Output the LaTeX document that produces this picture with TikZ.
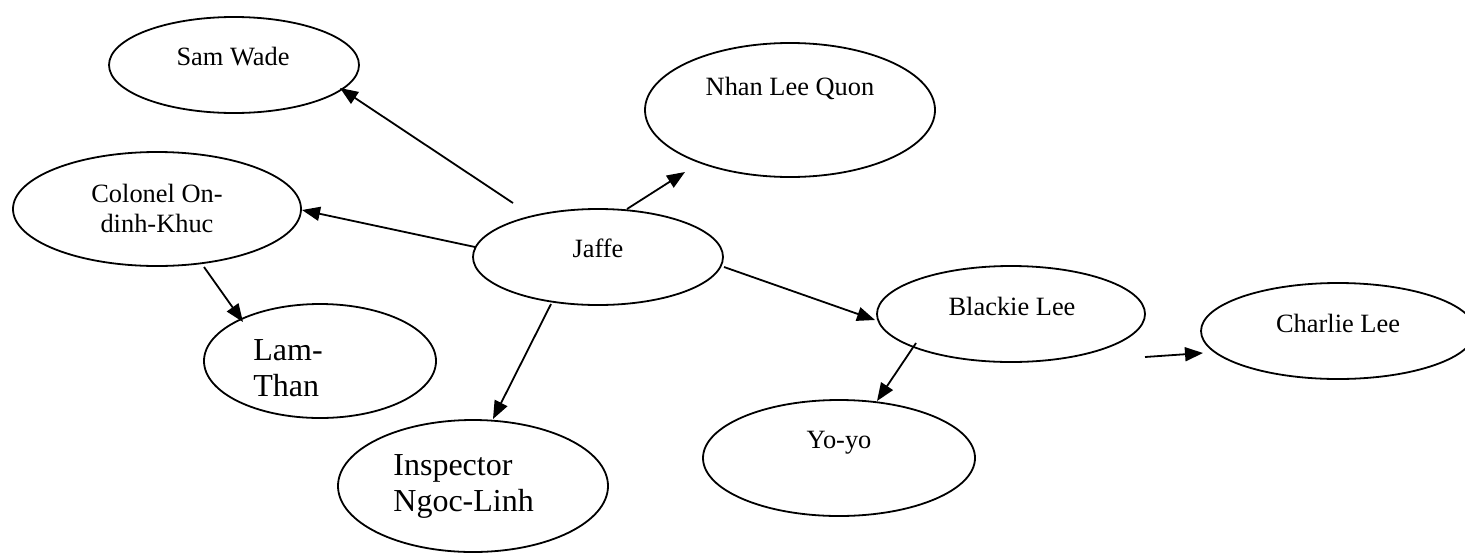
\documentclass[tikz,border=0pt]{standalone}
\usepackage{fontspec}
\setmainfont{Liberation Serif}
\usetikzlibrary{shapes.geometric,arrows.meta}
\begin{document}
\begin{tikzpicture}[x=0.5pt,y=-0.5pt,
  person/.style={draw,ellipse,line width=0.9pt,inner sep=0pt},
  smalltxt/.style={inner sep=0pt,font=\fontsize{13.2}{15}\selectfont,align=center},
  bigtxt/.style={inner sep=0pt,font=\fontsize{16}{18}\selectfont,align=left,anchor=west},
  link/.style={line width=0.9pt,-{Triangle[length=9pt,width=7pt]}}]
\useasboundingbox (0,0) rectangle (1465,552);
% ellipses
\node[person,minimum width=125pt,minimum height=48pt] (sam) at (234,65) {};
\node[person,minimum width=144pt,minimum height=57pt] (colonel) at (157,209) {};
\node[person,minimum width=145pt,minimum height=67pt] (nhan) at (790,110) {};
\node[person,minimum width=125pt,minimum height=48pt] (jaffe) at (598,257) {};
\node[person,minimum width=116pt,minimum height=57pt] (lam) at (320,361) {};
\node[person,minimum width=134pt,minimum height=48pt] (blackie) at (1011,314) {};
\node[person,minimum width=137pt,minimum height=48pt] (charlie) at (1338,331) {};
\node[person,minimum width=136pt,minimum height=58pt] (yoyo) at (839,458) {};
\node[person,minimum width=135pt,minimum height=66pt] (insp) at (473,486) {};
% texts
\node[smalltxt] (samT) at (233,57) {Sam Wade};
\node[smalltxt] (colT) at (157,208) {Colonel On-\\dinh-Khuc};
\node[smalltxt] (nhanT) at (790,88) {Nhan Lee Quon};
\node[smalltxt] (jaffeT) at (598,248) {Jaffe};
\node[smalltxt] (blackT) at (1012,306) {Blackie Lee};
\node[smalltxt] (charT) at (1338,323) {Charlie Lee};
\node[smalltxt] (yoT) at (839,443) {Yo-yo};
\node[bigtxt] (lamT) at (253,368) {Lam-\\Than};
\node[bigtxt] (inspT) at (393,486) {Inspector\\Ngoc-Linh};
% connector ends
\coordinate (a1s) at (513,203); \coordinate (a1e) at (340,88);
\coordinate (a2s) at (627,209); \coordinate (a2e) at (685,172);
\coordinate (a3s) at (475,247); \coordinate (a3e) at (302,210);
\coordinate (a4s) at (204,267); \coordinate (a4e) at (243,322);
\coordinate (a5s) at (551,304); \coordinate (a5e) at (493,419);
\coordinate (a6s) at (724,267); \coordinate (a6e) at (875,320);
\coordinate (a7s) at (916,343); \coordinate (a7e) at (877,401);
\coordinate (a8s) at (1145,357); \coordinate (a8e) at (1203,353);
\draw[link] (a1s) -- (a1e);
\draw[link] (a2s) -- (a2e);
\draw[link] (a3s) -- (a3e);
\draw[link] (a4s) -- (a4e);
\draw[link] (a5s) -- (a5e);
\draw[link] (a6s) -- (a6e);
\draw[link] (a7s) -- (a7e);
\draw[link] (a8s) -- (a8e);
\end{tikzpicture}
\end{document}
